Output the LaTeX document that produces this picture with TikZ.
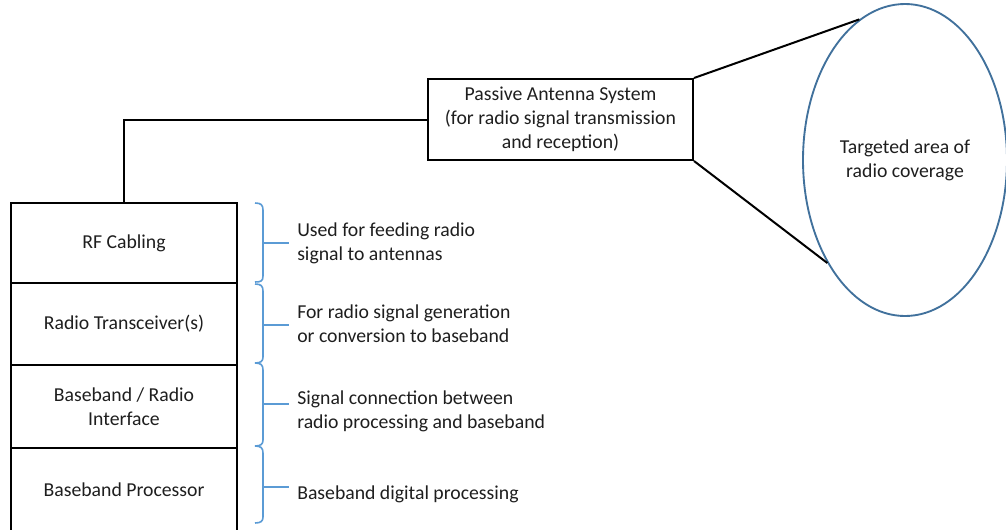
\documentclass[tikz,border=0pt]{standalone}
\usepackage{fontspec}
\setmainfont{Carlito}
\usetikzlibrary{shapes.geometric}
\definecolor{txt}{HTML}{1E1E1E}
\definecolor{brk}{HTML}{5B9BD5}
\definecolor{ell}{HTML}{41719C}
\tikzset{
  layer/.style={draw=black, line width=1.5pt, rectangle, inner sep=0pt, minimum width=169.5pt, align=center, text=txt},
  note/.style={anchor=west, align=left, inner sep=0pt, text=txt},
  bracebar/.style={draw=brk, line width=1.2pt},
  wire/.style={draw=black, line width=1.5pt},
}
\begin{document}
\begin{tikzpicture}[x=0.75pt,y=-0.75pt, font=\fontsize{14.8}{18}\selectfont]
\useasboundingbox (0,0) rectangle (1006,529);
% stacked layers
\node[layer, minimum height=60pt] (rf) at (124,243) {RF Cabling};
\node[layer, minimum height=61.5pt] (rt) at (124,324) {Radio Transceiver(s)};
\node[layer, minimum height=62.25pt] (br) at (124,406.5) {Baseband / Radio\\Interface};
\node[layer, minimum height=63pt] (bp) at (124,490) {Baseband Processor};
% antenna
\node[layer, minimum width=198.75pt, minimum height=60.75pt] (pas) at (560.5,119.5) {Passive Antenna System\\(for radio signal transmission\\and reception)};
% coverage
\node[ellipse, draw=ell, line width=1.4pt, minimum width=153pt, minimum height=234pt, inner sep=0pt, align=center, text=txt] (cov) at (905,160) {Targeted area of\\radio coverage};
% connectors
\coordinate (rftop) at (124,203);
\draw[wire] (rftop) |- (pas.west);
\draw[wire] (pas.north east) -- (cov.108.9);
\draw[wire] (pas.south east) -- (cov.233.7);
% braces
\draw[bracebar] (255,203) .. controls (261,203) and (263,205) .. (263,210) -- (263,276) .. controls (263,281) and (261,282) .. (255,282);
\draw[bracebar] (263,243) -- (289,243);
\draw[bracebar] (255,284) .. controls (261,284) and (263,286) .. (263,291) -- (263,357) .. controls (263,361) and (261,363) .. (255,363);
\draw[bracebar] (263,325) -- (289,325);
\draw[bracebar] (255,363) .. controls (261,363) and (263,365) .. (263,370) -- (263,440) .. controls (263,444) and (261,446) .. (255,446);
\draw[bracebar] (263,404) -- (289,404);
\draw[bracebar] (255,446) .. controls (261,446) and (263,448) .. (263,453) -- (263,517) .. controls (263,521) and (261,523) .. (255,523);
\draw[bracebar] (263,487) -- (289,487);
% notes
\node[note] (n1) at (297,243) {Used for feeding radio\\signal to antennas};
\node[note] (n2) at (297,324) {For radio signal generation\\or conversion to baseband};
\node[note] (n3) at (297,411) {Signal connection between\\radio processing and baseband};
\node[note] (n4) at (297,494) {Baseband digital processing};
\end{tikzpicture}
\end{document}
